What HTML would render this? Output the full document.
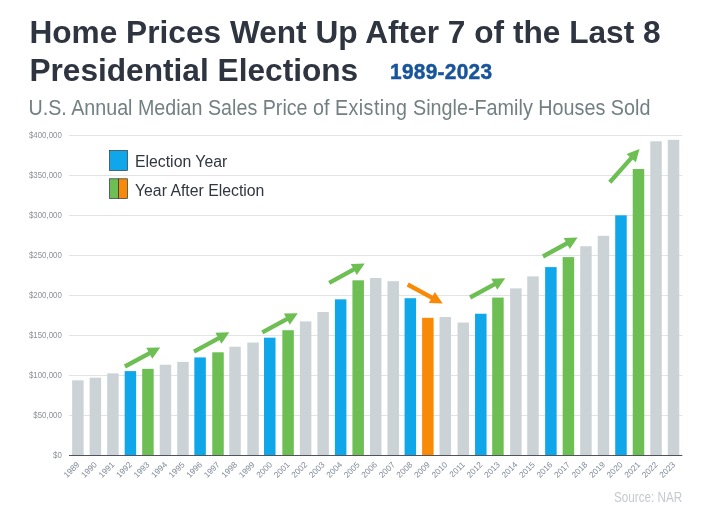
<!DOCTYPE html>
<html lang="en">
<head>
<meta charset="utf-8">
<title>Home Prices Went Up After 7 of the Last 8 Presidential Elections</title>
<style>
html,body{margin:0;padding:0;background:#fff;}
body{width:702px;height:516px;position:relative;overflow:hidden;font-family:"Liberation Sans",Arial,sans-serif;}
.t{position:absolute;white-space:nowrap;line-height:1;}
h1{margin:0;font-weight:bold;color:#2e3541;font-size:31.65px;}
#t1{left:29.4px;top:17.2px;}
#t2{left:29.4px;top:55.0px;}
#yr{left:389.7px;top:60.6px;font-size:22.2px;font-weight:bold;color:#17549b;transform-origin:0 50%;transform:scaleX(0.94);letter-spacing:0.3px;-webkit-text-stroke:0.5px #17549b;}
#sub{left:28.5px;top:97.5px;font-size:19.7px;color:#728083;transform-origin:0 0;transform:scaleY(1.08);}
#src{left:614px;top:491.3px;font-size:11.8px;color:#c5cacd;transform-origin:0 0;transform:scale(0.99,1.18);}
.leg{font-size:15.8px;color:#30363f;}
svg{position:absolute;left:0;top:0;}
svg text{font-family:"Liberation Sans",Arial,sans-serif;}
.yl{font-size:8px;fill:#8a9099;text-anchor:end;}
.xl{font-size:8.3px;fill:#808a99;text-anchor:end;}
</style>
</head>
<body>
<h1 class="t" id="t1">Home Prices Went Up After 7 of the Last 8</h1>
<h1 class="t" id="t2">Presidential Elections</h1>
<div class="t" id="yr">1989-2023</div>
<div class="t" id="sub">U.S. Annual Median Sales Price of <span style="letter-spacing:0.45px">Existing</span><span style="font-size:19.8px"> Single-Family Houses Sold</span></div>
<svg width="702" height="516" viewBox="0 0 702 516">

<line x1="69" x2="682.2" y1="415.5" y2="415.5" stroke="#e1e3e5" stroke-width="1"/>
<line x1="69" x2="682.2" y1="375.5" y2="375.5" stroke="#e1e3e5" stroke-width="1"/>
<line x1="69" x2="682.2" y1="335.5" y2="335.5" stroke="#e1e3e5" stroke-width="1"/>
<line x1="69" x2="682.2" y1="295.5" y2="295.5" stroke="#e1e3e5" stroke-width="1"/>
<line x1="69" x2="682.2" y1="255.5" y2="255.5" stroke="#e1e3e5" stroke-width="1"/>
<line x1="69" x2="682.2" y1="215.5" y2="215.5" stroke="#e1e3e5" stroke-width="1"/>
<line x1="69" x2="682.2" y1="175.5" y2="175.5" stroke="#e1e3e5" stroke-width="1"/>
<line x1="69" x2="682.2" y1="135.5" y2="135.5" stroke="#e1e3e5" stroke-width="1"/>
<text class="yl" transform="translate(61.8,457.9) scale(0.985,1.15)">$0</text>
<text class="yl" transform="translate(61.8,417.9) scale(0.985,1.15)">$50,000</text>
<text class="yl" transform="translate(61.8,377.9) scale(0.985,1.15)">$100,000</text>
<text class="yl" transform="translate(61.8,337.9) scale(0.985,1.15)">$150,000</text>
<text class="yl" transform="translate(61.8,297.9) scale(0.985,1.15)">$200,000</text>
<text class="yl" transform="translate(61.8,257.9) scale(0.985,1.15)">$250,000</text>
<text class="yl" transform="translate(61.8,217.9) scale(0.985,1.15)">$300,000</text>
<text class="yl" transform="translate(61.8,177.9) scale(0.985,1.15)">$350,000</text>
<text class="yl" transform="translate(61.8,137.9) scale(0.985,1.15)">$400,000</text>
<rect x="72.10" y="380.30" width="11.5" height="74.70" fill="#ccd3d7"/>
<rect x="89.62" y="377.66" width="11.5" height="77.34" fill="#ccd3d7"/>
<rect x="107.14" y="373.34" width="11.5" height="81.66" fill="#ccd3d7"/>
<rect x="124.66" y="371.10" width="11.5" height="83.90" fill="#10a6ea"/>
<rect x="142.18" y="368.86" width="11.5" height="86.14" fill="#6dbf53"/>
<rect x="159.70" y="364.70" width="11.5" height="90.30" fill="#ccd3d7"/>
<rect x="177.22" y="361.90" width="11.5" height="93.10" fill="#ccd3d7"/>
<rect x="194.34" y="357.42" width="11.5" height="97.58" fill="#10a6ea"/>
<rect x="212.26" y="352.30" width="11.5" height="102.70" fill="#6dbf53"/>
<rect x="229.28" y="346.70" width="11.5" height="108.30" fill="#ccd3d7"/>
<rect x="247.30" y="342.54" width="11.5" height="112.46" fill="#ccd3d7"/>
<rect x="264.02" y="337.66" width="11.5" height="117.34" fill="#10a6ea"/>
<rect x="282.34" y="330.22" width="11.5" height="124.78" fill="#6dbf53"/>
<rect x="299.86" y="321.42" width="11.5" height="133.58" fill="#ccd3d7"/>
<rect x="317.38" y="311.98" width="11.5" height="143.02" fill="#ccd3d7"/>
<rect x="334.90" y="299.34" width="11.5" height="155.66" fill="#10a6ea"/>
<rect x="352.42" y="280.30" width="11.5" height="174.70" fill="#6dbf53"/>
<rect x="369.94" y="277.98" width="11.5" height="177.02" fill="#ccd3d7"/>
<rect x="387.46" y="281.18" width="11.5" height="173.82" fill="#ccd3d7"/>
<rect x="404.58" y="298.22" width="11.5" height="156.78" fill="#10a6ea"/>
<rect x="422.10" y="317.82" width="11.5" height="137.18" fill="#f88a08"/>
<rect x="439.52" y="317.02" width="11.5" height="137.98" fill="#ccd3d7"/>
<rect x="457.54" y="322.54" width="11.5" height="132.46" fill="#ccd3d7"/>
<rect x="475.06" y="313.74" width="11.5" height="141.26" fill="#10a6ea"/>
<rect x="492.18" y="297.58" width="11.5" height="157.42" fill="#6dbf53"/>
<rect x="510.10" y="288.38" width="11.5" height="166.62" fill="#ccd3d7"/>
<rect x="527.22" y="276.38" width="11.5" height="178.62" fill="#ccd3d7"/>
<rect x="545.14" y="267.10" width="11.5" height="187.90" fill="#10a6ea"/>
<rect x="562.66" y="257.10" width="11.5" height="197.90" fill="#6dbf53"/>
<rect x="580.18" y="246.22" width="11.5" height="208.78" fill="#ccd3d7"/>
<rect x="597.70" y="235.82" width="11.5" height="219.18" fill="#ccd3d7"/>
<rect x="615.22" y="215.34" width="11.5" height="239.66" fill="#10a6ea"/>
<rect x="632.74" y="169.02" width="11.5" height="285.98" fill="#6dbf53"/>
<rect x="650.26" y="141.26" width="11.5" height="313.74" fill="#ccd3d7"/>
<rect x="667.78" y="139.82" width="11.5" height="315.18" fill="#ccd3d7"/>
<line x1="69" x2="682.3" y1="455.5" y2="455.5" stroke="#50545a" stroke-width="1.1"/>
<text class="xl" transform="translate(80.05,465.2) rotate(-45)">1989</text>
<text class="xl" transform="translate(97.57,465.2) rotate(-45)">1990</text>
<text class="xl" transform="translate(115.09,465.2) rotate(-45)">1991</text>
<text class="xl" transform="translate(132.61,465.2) rotate(-45)">1992</text>
<text class="xl" transform="translate(150.13,465.2) rotate(-45)">1993</text>
<text class="xl" transform="translate(167.65,465.2) rotate(-45)">1994</text>
<text class="xl" transform="translate(185.17,465.2) rotate(-45)">1995</text>
<text class="xl" transform="translate(202.69,465.2) rotate(-45)">1996</text>
<text class="xl" transform="translate(220.21,465.2) rotate(-45)">1997</text>
<text class="xl" transform="translate(237.73,465.2) rotate(-45)">1998</text>
<text class="xl" transform="translate(255.25,465.2) rotate(-45)">1999</text>
<text class="xl" transform="translate(272.77,465.2) rotate(-45)">2000</text>
<text class="xl" transform="translate(290.29,465.2) rotate(-45)">2001</text>
<text class="xl" transform="translate(307.81,465.2) rotate(-45)">2002</text>
<text class="xl" transform="translate(325.33,465.2) rotate(-45)">2003</text>
<text class="xl" transform="translate(342.85,465.2) rotate(-45)">2004</text>
<text class="xl" transform="translate(360.37,465.2) rotate(-45)">2005</text>
<text class="xl" transform="translate(377.89,465.2) rotate(-45)">2006</text>
<text class="xl" transform="translate(395.41,465.2) rotate(-45)">2007</text>
<text class="xl" transform="translate(412.93,465.2) rotate(-45)">2008</text>
<text class="xl" transform="translate(430.45,465.2) rotate(-45)">2009</text>
<text class="xl" transform="translate(447.97,465.2) rotate(-45)">2010</text>
<text class="xl" transform="translate(465.49,465.2) rotate(-45)">2011</text>
<text class="xl" transform="translate(483.01,465.2) rotate(-45)">2012</text>
<text class="xl" transform="translate(500.53,465.2) rotate(-45)">2013</text>
<text class="xl" transform="translate(518.05,465.2) rotate(-45)">2014</text>
<text class="xl" transform="translate(535.57,465.2) rotate(-45)">2015</text>
<text class="xl" transform="translate(553.09,465.2) rotate(-45)">2016</text>
<text class="xl" transform="translate(570.61,465.2) rotate(-45)">2017</text>
<text class="xl" transform="translate(588.13,465.2) rotate(-45)">2018</text>
<text class="xl" transform="translate(605.65,465.2) rotate(-45)">2019</text>
<text class="xl" transform="translate(623.17,465.2) rotate(-45)">2020</text>
<text class="xl" transform="translate(640.69,465.2) rotate(-45)">2021</text>
<text class="xl" transform="translate(658.21,465.2) rotate(-45)">2022</text>
<text class="xl" transform="translate(675.73,465.2) rotate(-45)">2023</text>
<line x1="124.9" y1="366.5" x2="150.2" y2="352.8" stroke="#6dbf53" stroke-width="4.3"/><polygon points="160.2,347.4 152.3,358.8 146.3,347.8" fill="#6dbf53"/>
<line x1="194.0" y1="351.6" x2="219.3" y2="337.8" stroke="#6dbf53" stroke-width="4.3"/><polygon points="229.3,332.3 221.4,343.8 215.4,332.7" fill="#6dbf53"/>
<line x1="262.3" y1="332.3" x2="287.7" y2="318.7" stroke="#6dbf53" stroke-width="4.3"/><polygon points="297.8,313.3 289.8,324.7 283.9,313.6" fill="#6dbf53"/>
<line x1="329.2" y1="282.8" x2="354.7" y2="268.9" stroke="#6dbf53" stroke-width="4.3"/><polygon points="364.7,263.5 356.8,275.0 350.8,263.9" fill="#6dbf53"/>
<line x1="407.7" y1="284.5" x2="432.7" y2="298.1" stroke="#f88a08" stroke-width="4.3"/><polygon points="442.7,303.5 428.8,303.1 434.8,292.0" fill="#f88a08"/>
<line x1="470.1" y1="297.5" x2="495.2" y2="283.8" stroke="#6dbf53" stroke-width="4.3"/><polygon points="505.2,278.3 497.3,289.8 491.3,278.7" fill="#6dbf53"/>
<line x1="543.0" y1="256.5" x2="567.6" y2="243.0" stroke="#6dbf53" stroke-width="4.3"/><polygon points="577.6,237.5 569.8,249.0 563.7,237.9" fill="#6dbf53"/>
<line x1="609.8" y1="182.2" x2="631.9" y2="157.4" stroke="#6dbf53" stroke-width="4.3"/><polygon points="639.5,148.9 635.9,162.3 626.5,154.0" fill="#6dbf53"/>
<rect x="109.6" y="150.6" width="17.8" height="19.8" fill="#10a6ea" stroke="#22343c" stroke-width="0.7"/>
<rect x="109.6" y="178.8" width="9" height="19.6" fill="#6dbf53" stroke="#22343c" stroke-width="0.7"/>
<rect x="118.6" y="178.8" width="8.8" height="19.6" fill="#f88a08" stroke="#22343c" stroke-width="0.7"/>
</svg>
<div class="t leg" style="left:135px;top:154.3px;">Election Year</div>
<div class="t leg" style="left:135px;top:183.3px;">Year After Election</div>
<div class="t" id="src">Source: NAR</div>
</body>
</html>
